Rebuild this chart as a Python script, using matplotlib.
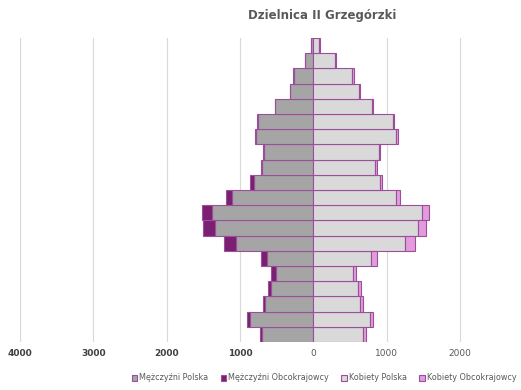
import numpy as np
import matplotlib.pyplot as plt

# age groups from youngest (bottom) to oldest (top)
wiek = ['0-4', '5-9', '10-14', '15-19', '20-24', '25-29', '30-34', '35-39',
        '40-44', '45-49', '50-54', '55-59', '60-64', '65-69', '70-74',
        '75-79', '80-84', '85-89', '90-94', '95+']

m_pl = [705, 865, 655, 573, 510, 633, 1050, 1347, 1378, 1105,
        814, 705, 680, 780, 750, 518, 315, 268, 112, 40]
m_obc = [28, 40, 40, 50, 68, 82, 170, 155, 142, 82,
         50, 15, 12, 20, 22, 10, 8, 10, 3, 0]
k_pl = [677, 772, 632, 608, 532, 786, 1250, 1427, 1482, 1127,
        905, 841, 886, 1127, 1078, 795, 618, 527, 295, 70]
k_obc = [40, 33, 40, 37, 50, 82, 128, 110, 90, 55,
         30, 25, 25, 25, 25, 15, 22, 20, 5, 15]

ticks = [-4000, -3000, -2000, -1000, 0, 1000, 2000]
tick_labels = ['4000', '3000', '2000', '1000', '0', '1000', '2000']

edge = '#9B4F9B'
fig = plt.figure(figsize=(5.21, 3.90), dpi=100)
ax = fig.add_axes([20/521, 1-342/390, 1-20/521, 304/390])

y = np.arange(len(wiek))
m_pl = np.array(m_pl)
m_obc = np.array(m_obc)
k_pl = np.array(k_pl)
k_obc = np.array(k_obc)

ax.barh(y, -m_pl, height=1, color='#A5A5A5', edgecolor=edge, linewidth=0.8, label='Mężczyźni Polska', zorder=3)
ax.barh(y, -m_obc, left=-m_pl, height=1, color='#7B1F72', edgecolor=edge, linewidth=0.8, label='Mężczyźni Obcokrajowcy', zorder=3)
ax.barh(y, k_pl, height=1, color='#D9D9D9', edgecolor=edge, linewidth=0.8, label='Kobiety Polska', zorder=3)
ax.barh(y, k_obc, left=k_pl, height=1, color='#E29BDB', edgecolor=edge, linewidth=0.8, label='Kobiety Obcokrajowcy', zorder=3)

ax.set_xlim(-4000, 2828)
ax.set_ylim(-0.5, len(wiek)-0.5)
ax.set_yticks([])
ax.set_xticks(ticks)
ax.set_xticklabels(tick_labels, fontsize=6.5, color='#595959')
for lab in ax.get_xticklabels()[:4]:
    lab.set_fontweight('bold')
    lab.set_color('#404040')
ax.tick_params(axis='x', length=0, pad=5)
ax.grid(axis='x', color='#D9D9D9', linewidth=0.8, zorder=0)
for s in ax.spines.values():
    s.set_visible(False)

fig.text(322/521, 1-16/390, 'Dzielnica II Grzegórzki', ha='center', va='center',
         fontsize=8.5, fontweight='bold', color='#595959')

leg = fig.legend(loc='center', bbox_to_anchor=(324/521, 1-378/390), ncol=4, frameon=False,
                 fontsize=5.8, handlelength=0.7, handleheight=0.7, handletextpad=0.25,
                 columnspacing=1.5, labelcolor='#595959')

plt.savefig('out.png', dpi=100)
